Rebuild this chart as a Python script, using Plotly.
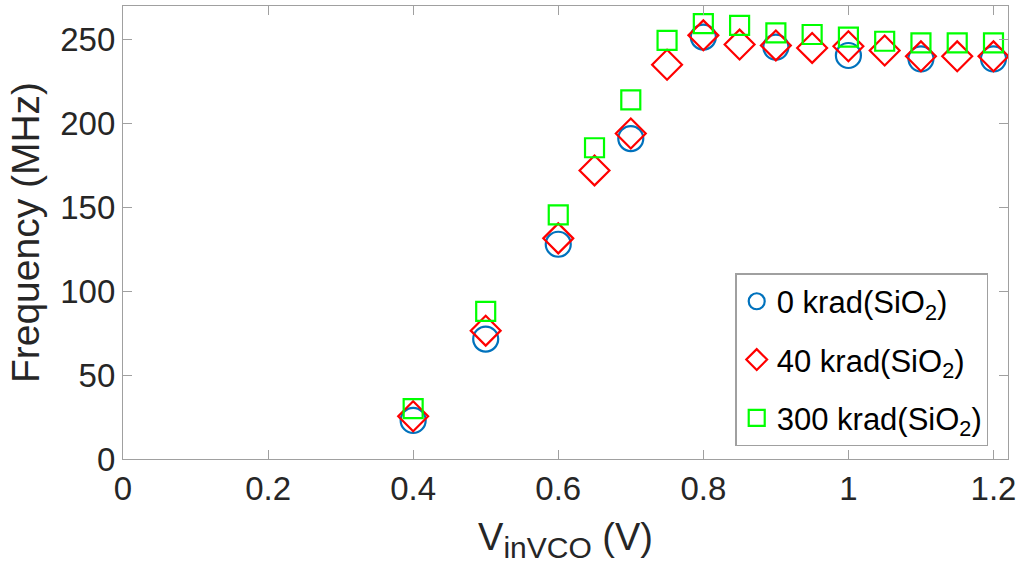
import plotly.graph_objects as go

x_0krad = [0.4, 0.5, 0.6, 0.7, 0.8, 0.9, 1.0, 1.1, 1.2]
f_0krad = [23, 71.5, 128, 191, 251.5, 245.5, 240.5, 238.5, 238.5]

x_40krad = [0.4, 0.5, 0.6, 0.65, 0.7, 0.75, 0.8, 0.85, 0.9, 0.95, 1.0, 1.05, 1.1, 1.15, 1.2]
f_40krad = [25.5, 76.5, 131.5, 172, 194, 235, 252.5, 247, 246.5, 245, 246, 243.5, 240, 240, 240]

x_300krad = [0.4, 0.5, 0.6, 0.65, 0.7, 0.75, 0.8, 0.85, 0.9, 0.95, 1.0, 1.05, 1.1, 1.15, 1.2]
f_300krad = [30, 88, 145.5, 185.5, 214, 249.5, 259.5, 258.5, 254, 253, 251.5, 249, 248, 248, 248]

x_ticks = [0, 0.2, 0.4, 0.6, 0.8, 1.0, 1.2]
x_ticklabels = ["0", "0.2", "0.4", "0.6", "0.8", "1", "1.2"]
y_ticks = [0, 50, 100, 150, 200, 250]

FONT = "Liberation Sans, Arial, sans-serif"

fig = go.Figure()
fig.add_trace(go.Scatter(
    x=x_0krad, y=f_0krad, mode="markers", name="0 krad(SiO<sub>2</sub>)", legendgroup="a",
    marker=dict(symbol="circle-open", size=25, color="#0072BD", line=dict(width=2.2, color="#0072BD")),
))
fig.add_trace(go.Scatter(
    x=x_40krad, y=f_40krad, mode="markers", name="40 krad(SiO<sub>2</sub>)", legendgroup="b",
    marker=dict(symbol="diamond-open", size=23, color="#FF0000", line=dict(width=2.2, color="#FF0000")),
))
fig.add_trace(go.Scatter(
    x=x_300krad, y=f_300krad, mode="markers", name="300 krad(SiO<sub>2</sub>)", legendgroup="c",
    marker=dict(symbol="square-open", size=19, color="#00FF00", line=dict(width=2.2, color="#00FF00")),
))

axis_common = dict(
    showgrid=False, zeroline=False, showline=True, linecolor="#a0a0a0", linewidth=1.3,
    mirror="ticks", ticks="inside", ticklen=9, tickwidth=1.3, tickcolor="#a0a0a0",
    tickfont=dict(family=FONT, size=33, color="#262626"),
)

fig.update_xaxes(
    range=[0, 1.22], tickvals=x_ticks, ticktext=x_ticklabels,
    title=dict(text="V<sub><span style='font-size:30px'>inVCO</span></sub> (V)",
               font=dict(family=FONT, size=38, color="#262626"), standoff=17),
    **axis_common,
)
fig.update_yaxes(
    range=[0, 270], tickvals=y_ticks,
    title=dict(text="Frequency (MHz)", font=dict(family=FONT, size=39, color="#262626"), standoff=8),
    **axis_common,
)

fig.update_layout(
    width=1022, height=580,
    margin=dict(l=123, r=14, t=6, b=121),
    paper_bgcolor="white", plot_bgcolor="white",
    showlegend=True,
    legend=dict(
        x=0.692, y=0.028, xanchor="left", yanchor="bottom",
        bgcolor="white", bordercolor="#a0a0a0", borderwidth=1.3,
        font=dict(family=FONT, size=31, color="#000000"),
        itemsizing="trace", tracegroupgap=15,
    ),
)

fig.write_html("out.html")
